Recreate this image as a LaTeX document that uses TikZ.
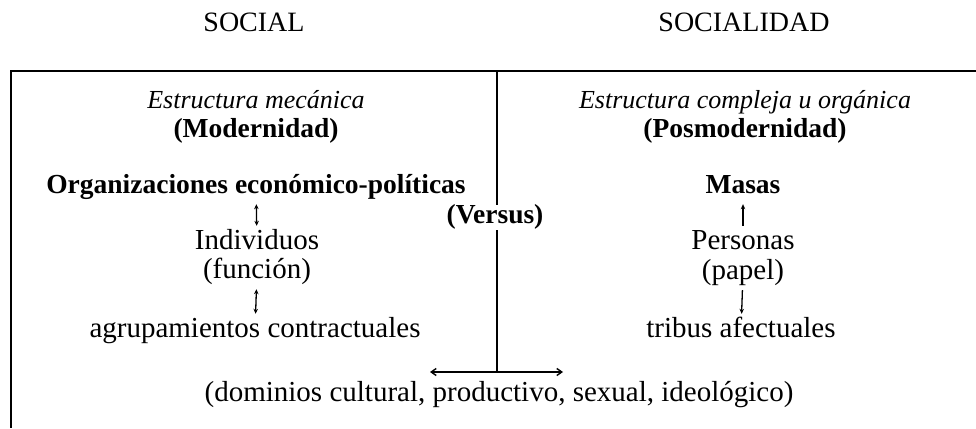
\documentclass[tikz,border=0pt]{standalone}
\usepackage{fontspec}
\setmainfont{Liberation Serif}
\usetikzlibrary{arrows.meta}
\begin{document}
\begin{tikzpicture}[x=1pt,y=-1pt,
  txt/.style={inner sep=0pt, text height=19pt, text depth=6pt, font=\fontsize{29}{32}\selectfont},
  head/.style={txt, font=\fontsize{28}{32}\selectfont},
  bld/.style={txt, font=\fontsize{27.5}{32}\selectfont\bfseries},
  itl/.style={txt, font=\fontsize{26}{30}\selectfont\itshape},
  frame/.style={line width=2pt},
  varrow/.style={line width=1.3pt, shorten <=4.5pt, shorten >=4.5pt, -{Stealth[length=5pt,width=4.5pt]}},
  darrow/.style={line width=1.3pt, shorten <=4.5pt, shorten >=4.5pt, {Stealth[length=5pt,width=4.5pt]}-{Stealth[length=5pt,width=4.5pt]}},
  harrow/.style={line width=1.4pt, {Straight Barb[length=5pt,width=7pt]}-{Straight Barb[length=5pt,width=7pt]}}
]
\useasboundingbox (0,0) rectangle (976,428);

% headings
\node[head] (social) at (254,25) {SOCIAL};
\node[head] (socialidad) at (744,25) {SOCIALIDAD};

% frame
\coordinate (tl) at (11,71);
\coordinate (tr) at (976,71);
\coordinate (bl) at (11,428);
\coordinate (tm) at (497,71);
\coordinate (hm) at (497,372);
\coordinate (hl) at (430,372);
\coordinate (hr) at (563,372);
\draw[frame] (tr) -- (tl) -- (bl);
\draw[frame] (tm) -- (hm);
\draw[harrow] (hl) -- (hr);

% left column
\node[itl] (estmec) at (256,102) {Estructura mecánica};
\node[bld] (modern) at (256,131) {(Modernidad)};
\node[bld] (org) at (256,187) {Organizaciones económico-políticas};
\node[txt] (ind) at (257,243) {Individuos};
\node[txt] (func) at (257,272) {(función)};
\node[txt] (agr) at (255,331) {agrupamientos contractuales};
\draw[darrow] (org) -- (ind);
\draw[darrow] (func) -- (agr);

% right column
\node[itl] (estcomp) at (745,102) {Estructura compleja u orgánica};
\node[bld] (posmod) at (745,131) {(Posmodernidad)};
\node[bld] (masas) at (743,187) {Masas};
\node[txt] (pers) at (743,243) {Personas};
\node[txt] (papel) at (743,273) {(papel)};
\node[txt] (tribus) at (741,331) {tribus afectuales};
\draw[varrow] (pers) -- (masas);
\draw[varrow] (papel) -- (tribus);

% versus
\node[bld, fill=white, inner xsep=1pt] (versus) at (495,217) {(Versus)};

% bottom
\node[txt] (dominios) at (499,395) {(dominios cultural, productivo, sexual, ideológico)};
\end{tikzpicture}
\end{document}
